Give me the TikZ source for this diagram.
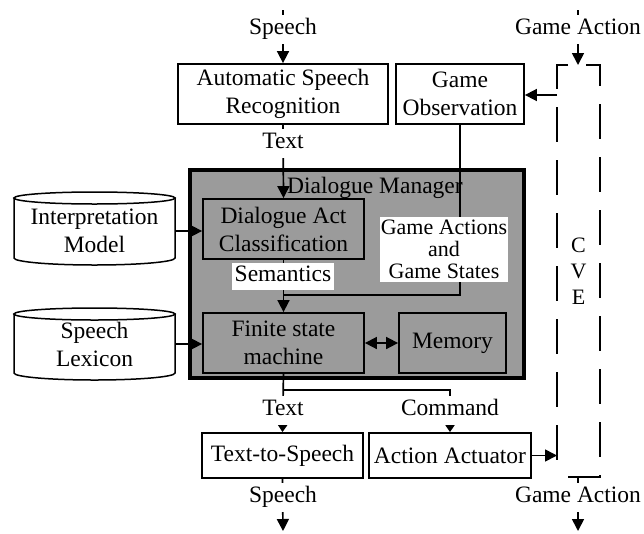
\documentclass[tikz,border=0pt]{standalone}
\usepackage{fontspec}
\setmainfont{Liberation Serif}
\usetikzlibrary{arrows.meta}
\definecolor{dmgray}{RGB}{155,155,155}
\begin{document}
\begin{tikzpicture}[x=1pt,y=-1pt,
  every node/.style={font=\fontsize{23.5}{28}\selectfont},
  box/.style={draw, line width=1.8pt, fill=white, align=center, inner sep=0pt},
  gbox/.style={box, fill=dmgray},
  lbl/.style={fill=white, inner xsep=3pt, inner ysep=4pt, text height=16pt, text depth=5pt},
  conn/.style={line width=1.7pt},
  arr/.style={conn, -{Triangle[length=12pt,width=12pt]}},
  sarr/.style={conn, -{Triangle[length=7pt,width=9pt]}},
  dbl/.style={conn, {Triangle[length=12pt,width=12pt]}-{Triangle[length=12pt,width=12pt]}},
  cvedash/.style={line width=1.8pt, dash pattern=on 35pt off 18pt},
  cyl/.style={line width=1.5pt, fill=white},
]
\useasboundingbox (0,0) rectangle (644,533);

% Dialogue manager container
\node[draw, line width=3.5pt, fill=dmgray, minimum width=334pt, minimum height=208pt, inner sep=0pt] (dm) at (357,274) {};
\node[anchor=west, inner sep=0pt] (dmlabel) at (287,188) {Dialogue Manager};

% boxes
\node[box, minimum width=210pt, minimum height=60pt] (asr) at (283,94) {Automatic Speech\\Recognition};
\node[box, minimum width=128pt, minimum height=60pt] (gobs) at (460,94) {Game\\Observation};
\node[gbox, minimum width=161pt, minimum height=60pt] (dac) at (283.5,229) {Dialogue Act\\Classification};
\node[gbox, minimum width=161pt, minimum height=60pt] (fsm) at (283.5,343) {Finite state\\machine};
\node[gbox, minimum width=107pt, minimum height=60pt] (mem) at (452.5,343) {Memory};
\node[box, minimum width=161pt, minimum height=45pt] (tts) at (282.5,455.5) {Text-to-Speech};
\node[box, minimum width=162pt, minimum height=45pt] (aa) at (450,455.5) {Action Actuator};

% cylinders
\draw[cyl] (14,198) -- (14,258) arc[start angle=180,end angle=360,x radius=80.5pt,y radius=7pt] -- (175,198) -- cycle;
\draw[cyl] (94.5,198) ellipse[x radius=80.5pt, y radius=6pt];
\node[align=center, inner sep=0pt, minimum width=161pt] (interp) at (94.5,231) {Interpretation\\Model};
\draw[cyl] (14,314) -- (14,373) arc[start angle=180,end angle=360,x radius=80.5pt,y radius=7pt] -- (175,314) -- cycle;
\draw[cyl] (94.5,314) ellipse[x radius=80.5pt, y radius=6pt];
\node[align=center, inner sep=0pt, minimum width=161pt] (lex) at (94.5,344) {Speech\\Lexicon};

% CVE dashed frame
\draw[cvedash] (568,65) -- (557,65) -- (557,477);
\draw[cvedash] (586,65) -- (600,65) -- (600,477) -- (568,477);
\node[align=center, inner sep=0pt, font=\fontsize{22}{26}\selectfont] (cve) at (578.5,271) {C\\V\\E};

% coordinates
\coordinate (spin) at (283,10);
\coordinate (gain) at (578,10);
\coordinate (cvetop) at (578,65);
\coordinate (cvel1) at (557,95);
\coordinate (cvel2) at (557,455.5);
\coordinate (jn) at (283,295);
\coordinate (split) at (283,390);
\coordinate (spout) at (283,531);
\coordinate (cvebot) at (578,477);
\coordinate (gaout) at (578,531);

% connectors
\draw[arr] (spin) -- (asr.north);
\draw[arr] (gain) -- (cvetop);
\draw[arr] (cvel1) -- (gobs.east |- cvel1);
\draw[arr] (asr.south) -- (dac.north);
\draw[arr] (interp.east) -- (dac.west |- interp.east);
\draw[arr] (lex.east) -- (fsm.west |- lex.east);
\draw[conn] (gobs.south) |- (jn);
\draw[arr] (dac.south) -- (fsm.north);
\draw[dbl] (fsm.east) -- (mem.west);
\draw[sarr] (fsm.south) -- (tts.north);
\draw[sarr] (split) -| (aa.north);
\draw[arr] (aa.east) -- (cvel2);
\draw[arr] (tts.south) -- (spout);
\draw[arr] (cvebot) -- (gaout);

% labels on connectors
\node[lbl] (lsp1) at (283,29) {Speech};
\node[lbl] (lga1) at (578,29) {Game Action};
\node[lbl] (ltx1) at (283,143) {Text};
\node[fill=white, inner xsep=3pt, inner ysep=3pt, minimum width=100pt, text height=16pt, text depth=5pt] (lsem) at (283,276) {Semantics};
\node[fill=white, align=center, inner xsep=1pt, inner ysep=2pt, minimum width=128pt, minimum height=65pt, font=\fontsize{22}{22}\selectfont] (lgas) at (444,249.5) {Game Actions\\and\\Game States};
\node[lbl] (ltx2) at (283,410) {Text};
\node[lbl] (lcmd) at (450,410) {Command};
\node[lbl] (lsp2) at (283,497) {Speech};
\node[lbl] (lga2) at (578,497) {Game Action};
\end{tikzpicture}
\end{document}
